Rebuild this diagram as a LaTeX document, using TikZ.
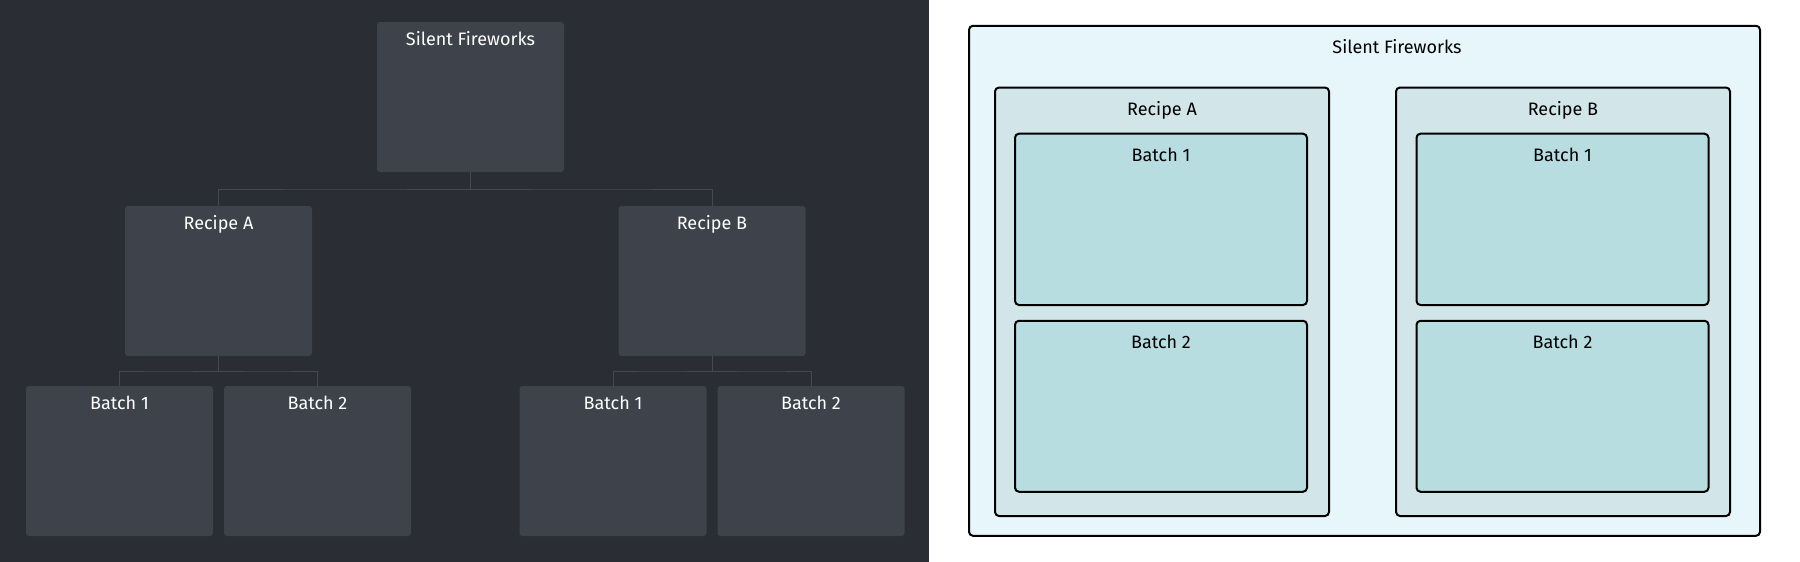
\documentclass[tikz,border=0pt]{standalone}
\usepackage{fontspec}
\setmainfont{Fira Sans}
\usepackage{tikz}
\usetikzlibrary{calc}
\definecolor{darkbg}{HTML}{2A2D33}
\definecolor{boxgrey}{HTML}{3E424B}
\definecolor{treeline}{HTML}{464951}
\definecolor{outerfill}{HTML}{E6F6FA}
\definecolor{recipefill}{HTML}{D2E6E9}
\definecolor{batchfill}{HTML}{B7DDE1}
\tikzset{
  darkbox/.style={fill=boxgrey,rounded corners=3pt,minimum width=187pt,inner xsep=0pt,inner ysep=0pt,
    text height=23pt,text depth=127pt,text=white,font=\fontsize{18}{21}\selectfont},
  lightbox/.style={draw=black,line width=2pt,rounded corners=4pt,inner xsep=0pt,inner ysep=0pt,
    text height=28pt,text=black,font=\fontsize{18}{21}\selectfont}
}

\begin{document}
\begin{tikzpicture}[x=1pt,y=1pt,level distance=184pt,level 1/.style={sibling distance=493.5pt},level 2/.style={sibling distance=198pt,level distance=180pt},
    edge from parent/.style={draw=treeline,line width=1pt},
    edge from parent path={(\tikzparentnode.south) |- ($(\tikzparentnode.south)!.5!(\tikzchildnode.north)$) -| (\tikzchildnode.north)}]
            \useasboundingbox (0,0) rectangle (1800,-562);
            \fill[white] (0,0) rectangle (1800,-562);
            \fill[darkbg] (0,0) rectangle (929,-562);
            % tree view
            \node[darkbox] (fw) at (470.5,-97) {Silent Fireworks}
                child{node[darkbox,xshift=-5.25pt] (recA) {Recipe A}
                    child{node[darkbox] (recAb1) {Batch 1}}
                    child{node[darkbox] (recAb2) {Batch 2}}
                }
                child{node[darkbox,xshift=-5.25pt] (recB) {Recipe B}
                    child{node[darkbox] (recBb1) {Batch 1}}
                    child{node[darkbox] (recBb2) {Batch 2}}
                }
            ;
            % nested view
            \node[lightbox,fill=outerfill,minimum width=791pt,text depth=482pt] (fwbox) at (1364.5,-280.8) {\hspace*{65pt}Silent Fireworks};
            \node[lightbox,fill=recipefill,minimum width=334pt,text depth=400.5pt] (recAbox) at (1162,-301.75) {Recipe A};
            \node[lightbox,fill=recipefill,minimum width=334pt,text depth=400.5pt] (recBbox) at (1563,-301.75) {Recipe B};
            \node[lightbox,fill=batchfill,minimum width=292pt,text depth=143.3pt] (recAb1box) at (1161,-219.35) {Batch 1};
            \node[lightbox,fill=batchfill,minimum width=292pt,text depth=143pt] (recAb2box) at (1161,-406.25) {Batch 2};
            \node[lightbox,fill=batchfill,minimum width=292pt,text depth=143.3pt] (recBb1box) at (1562.5,-219.35) {Batch 1};
            \node[lightbox,fill=batchfill,minimum width=292pt,text depth=143pt] (recBb2box) at (1562.5,-406.25) {Batch 2};
        \end{tikzpicture}
\end{document}
